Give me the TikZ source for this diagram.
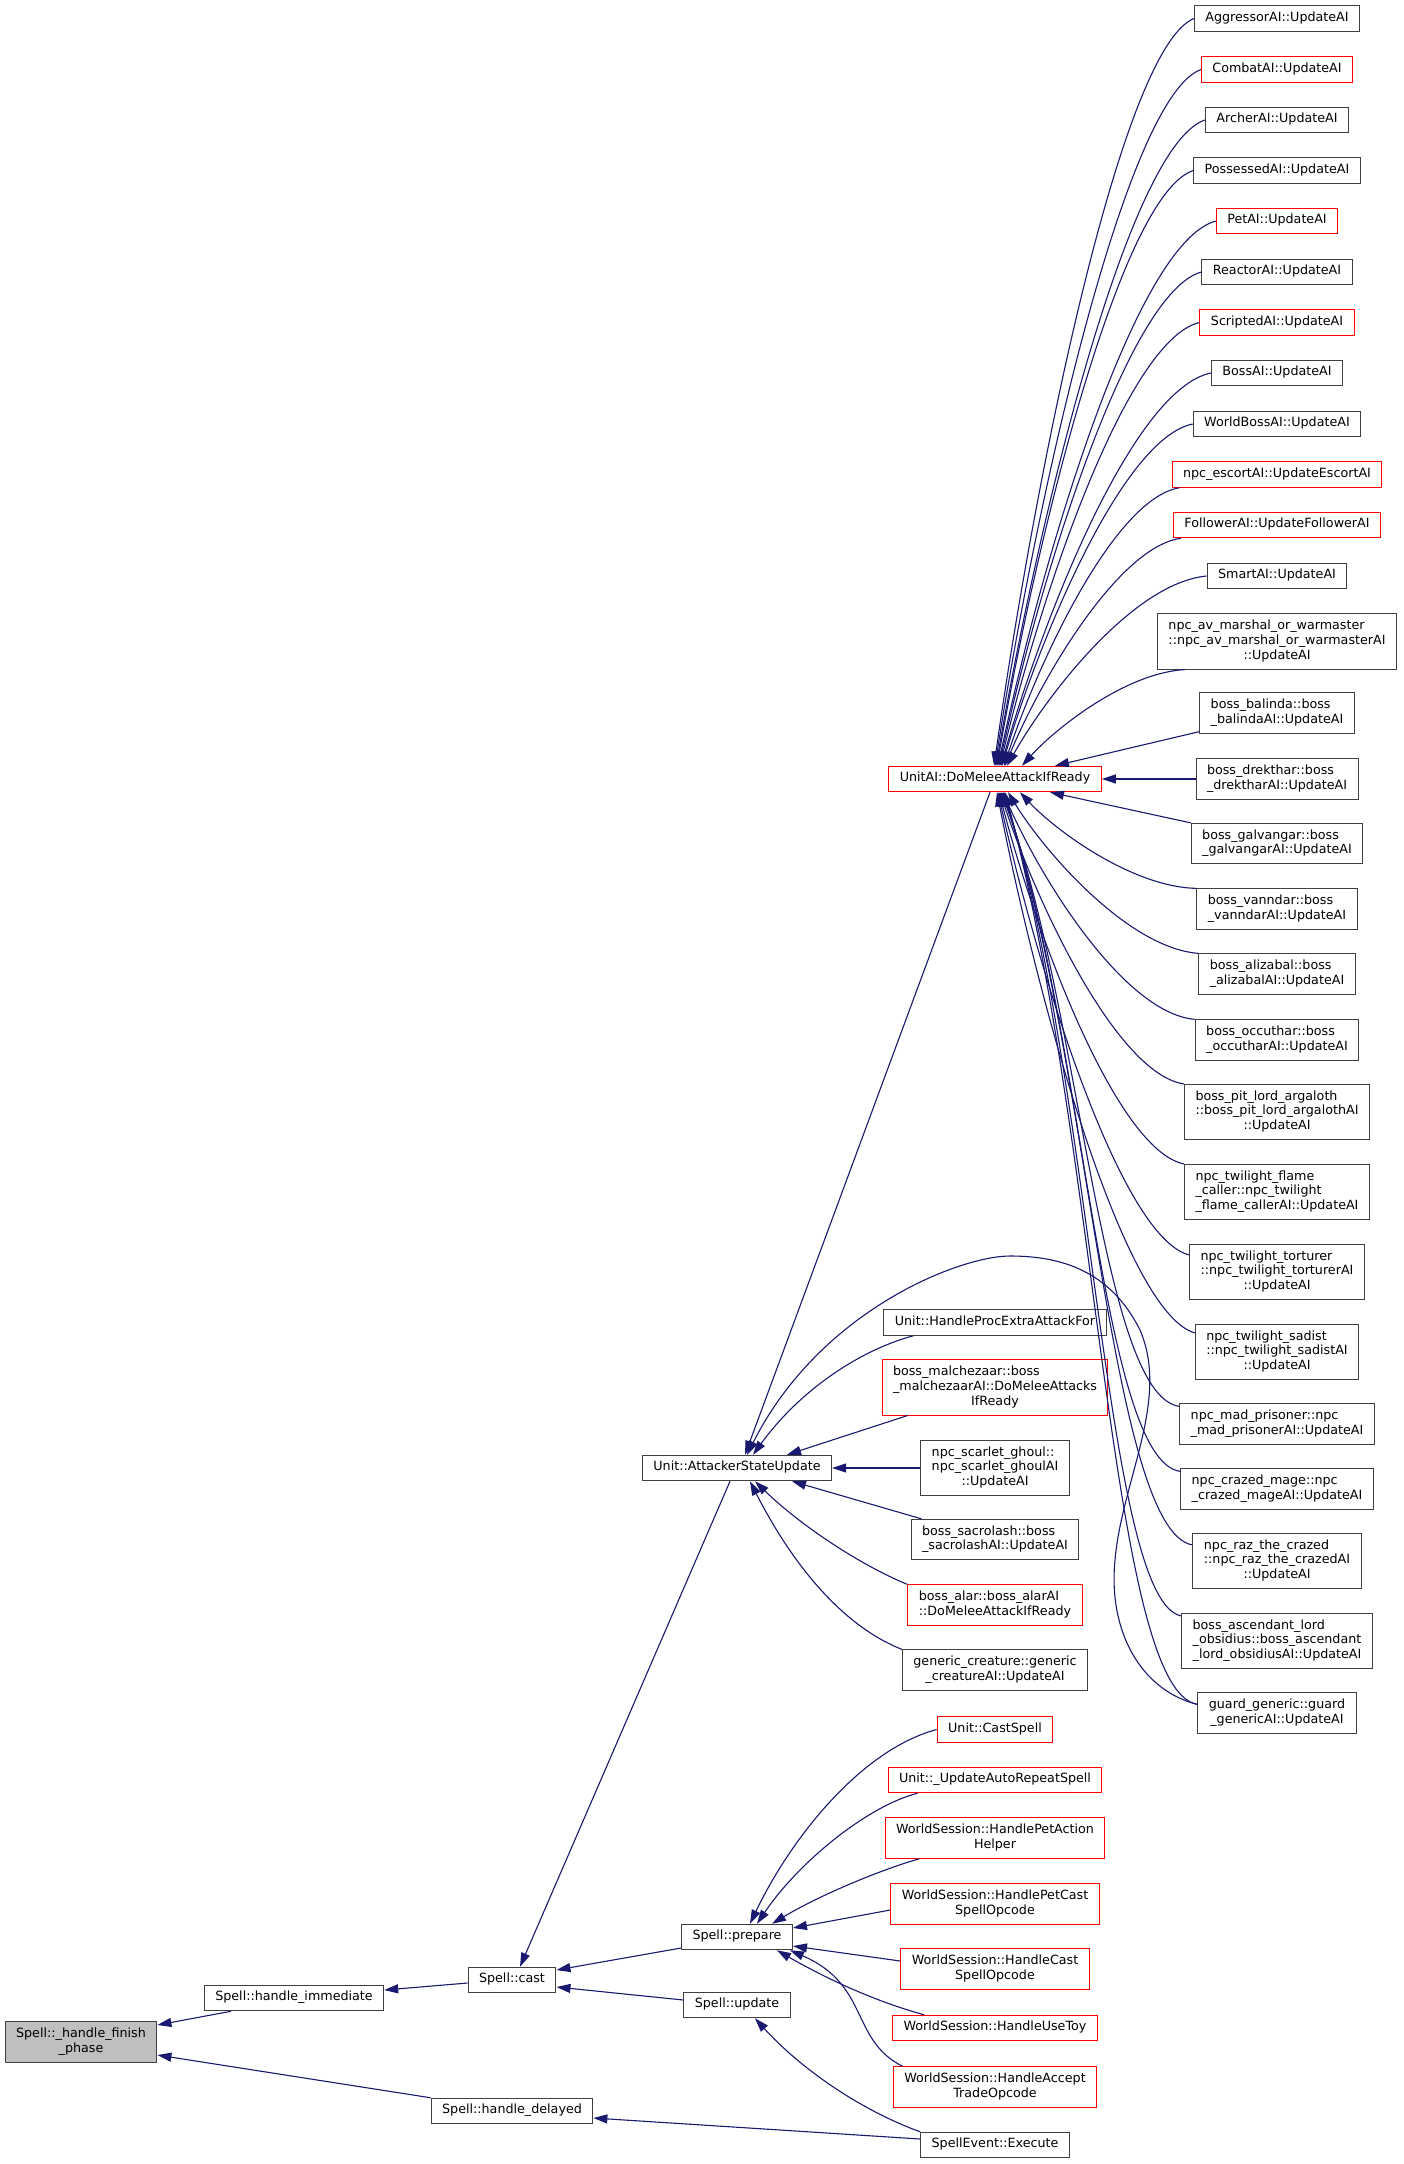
\documentclass[tikz,border=0pt]{standalone}
\usepackage{fontspec}
\setmainfont{DejaVu Sans}
\usetikzlibrary{arrows.meta}
\definecolor{cgedge}{HTML}{191970}
\definecolor{cgborder}{HTML}{404040}
\definecolor{cgred}{HTML}{FF0000}
\definecolor{cgroot}{HTML}{BFBFBF}
\newcommand{\fnfont}{\fontsize{12.7pt}{14.8pt}\selectfont}
\newcommand{\twoline}[2]{\begin{tabular}{@{}l@{}}#1\\\multicolumn{1}{@{}c@{}}{#2}\end{tabular}}
\newcommand{\threeline}[3]{\begin{tabular}{@{}l@{}}#1\\#2\\\multicolumn{1}{@{}c@{}}{#3}\end{tabular}}

\begin{document}
\begin{tikzpicture}[
  x=1pt, y=-1pt,
  fnbox/.style={rectangle, draw=cgborder, fill=white, line width=1pt, inner xsep=11pt, inner ysep=5.35pt, font=\fnfont, execute at begin node=\strut},
  fnred/.style={fnbox, draw=cgred},
  fnroot/.style={fnbox, fill=cgroot},
  call/.style={draw=cgedge, line width=1.1pt, -{Triangle[length=14pt, width=9pt]}},
]
\path[use as bounding box, fill=white] (0,0) rectangle (1404,2164);

% Left side: the function and its direct callers
\node[fnroot] (finish) at (81,2042) {\twoline{Spell::\_handle\_finish}{\_phase}};
\node[fnbox] (immediate) at (294,1998) {Spell::handle\_immediate};
\node[fnbox] (delayed) at (512,2111) {Spell::handle\_delayed};
\node[fnbox] (cast) at (512,1980) {Spell::cast};
\node[fnbox] (prepare) at (737,1937) {Spell::prepare};
\node[fnbox] (update) at (737,2005) {Spell::update};
\node[fnbox] (attacker) at (737,1468) {Unit::AttackerStateUpdate};
\node[fnred] (domelee) at (995,779) {UnitAI::DoMeleeAttackIfReady};

% Middle column
\node[fnbox] (procextra) at (995,1322.5) {Unit::HandleProcExtraAttackFor};
\node[fnred] (malchezaar) at (995,1387.5) {\threeline{boss\_malchezaar::boss}{\_malchezaarAI::DoMeleeAttacks}{IfReady}};
\node[fnbox] (scarletghoul) at (995,1468) {\threeline{npc\_scarlet\_ghoul::}{npc\_scarlet\_ghoulAI}{::UpdateAI}};
\node[fnbox] (sacrolash) at (995,1539.5) {\twoline{boss\_sacrolash::boss}{\_sacrolashAI::UpdateAI}};
\node[fnred] (alar) at (995,1605) {\twoline{boss\_alar::boss\_alarAI}{::DoMeleeAttackIfReady}};
\node[fnbox] (genericcreature) at (995,1670) {\twoline{generic\_creature::generic}{\_creatureAI::UpdateAI}};
\node[fnred] (castspell) at (995,1729.5) {Unit::CastSpell};
\node[fnred] (autorepeat) at (995,1780) {Unit::\_UpdateAutoRepeatSpell};
\node[fnred] (petaction) at (995,1838) {\twoline{WorldSession::HandlePetAction}{Helper}};
\node[fnred] (petcast) at (995,1904) {\twoline{WorldSession::HandlePetCast}{SpellOpcode}};
\node[fnred] (castopcode) at (995,1969) {\twoline{WorldSession::HandleCast}{SpellOpcode}};
\node[fnred] (usetoy) at (995,2028) {WorldSession::HandleUseToy};
\node[fnred] (accepttrade) at (995,2087) {\twoline{WorldSession::HandleAccept}{TradeOpcode}};
\node[fnbox] (execute) at (995,2145) {SpellEvent::Execute};

% Right column: AI update functions
\node[fnbox] (aggressor) at (1277,18.5) {AggressorAI::UpdateAI};
\node[fnred] (combat) at (1277,69.5) {CombatAI::UpdateAI};
\node[fnbox] (archer) at (1277,120) {ArcherAI::UpdateAI};
\node[fnbox] (possessed) at (1277,170.5) {PossessedAI::UpdateAI};
\node[fnred] (petai) at (1277,221) {PetAI::UpdateAI};
\node[fnbox] (reactor) at (1277,272) {ReactorAI::UpdateAI};
\node[fnred] (scripted) at (1277,322.5) {ScriptedAI::UpdateAI};
\node[fnbox] (bossai) at (1277,373) {BossAI::UpdateAI};
\node[fnbox] (worldboss) at (1277,424) {WorldBossAI::UpdateAI};
\node[fnred] (escort) at (1277,474.5) {npc\_escortAI::UpdateEscortAI};
\node[fnred] (follower) at (1277,525) {FollowerAI::UpdateFollowerAI};
\node[fnbox] (smart) at (1277,576) {SmartAI::UpdateAI};
\node[fnbox] (avmarshal) at (1277,641.5) {\threeline{npc\_av\_marshal\_or\_warmaster}{::npc\_av\_marshal\_or\_warmasterAI}{::UpdateAI}};
\node[fnbox] (balinda) at (1277,713) {\twoline{boss\_balinda::boss}{\_balindaAI::UpdateAI}};
\node[fnbox] (drekthar) at (1277,779) {\twoline{boss\_drekthar::boss}{\_drektharAI::UpdateAI}};
\node[fnbox] (galvangar) at (1277,843.5) {\twoline{boss\_galvangar::boss}{\_galvangarAI::UpdateAI}};
\node[fnbox] (vanndar) at (1277,909) {\twoline{boss\_vanndar::boss}{\_vanndarAI::UpdateAI}};
\node[fnbox] (alizabal) at (1277,974) {\twoline{boss\_alizabal::boss}{\_alizabalAI::UpdateAI}};
\node[fnbox] (occuthar) at (1277,1040) {\twoline{boss\_occuthar::boss}{\_occutharAI::UpdateAI}};
\node[fnbox] (pitlord) at (1277,1112) {\threeline{boss\_pit\_lord\_argaloth}{::boss\_pit\_lord\_argalothAI}{::UpdateAI}};
\node[fnbox] (flame) at (1277,1192) {\threeline{npc\_twilight\_flame}{\_caller::npc\_twilight}{\_flame\_callerAI::UpdateAI}};
\node[fnbox] (torturer) at (1277,1272) {\threeline{npc\_twilight\_torturer}{::npc\_twilight\_torturerAI}{::UpdateAI}};
\node[fnbox] (sadist) at (1277,1352) {\threeline{npc\_twilight\_sadist}{::npc\_twilight\_sadistAI}{::UpdateAI}};
\node[fnbox] (madprisoner) at (1277,1424) {\twoline{npc\_mad\_prisoner::npc}{\_mad\_prisonerAI::UpdateAI}};
\node[fnbox] (crazedmage) at (1277,1489) {\twoline{npc\_crazed\_mage::npc}{\_crazed\_mageAI::UpdateAI}};
\node[fnbox] (raz) at (1277,1561) {\threeline{npc\_raz\_the\_crazed}{::npc\_raz\_the\_crazedAI}{::UpdateAI}};
\node[fnbox] (ascendant) at (1277,1641) {\threeline{boss\_ascendant\_lord}{\_obsidius::boss\_ascendant}{\_lord\_obsidiusAI::UpdateAI}};
\node[fnbox] (guard) at (1277,1713) {\twoline{guard\_generic::guard}{\_genericAI::UpdateAI}};

% Calls into Spell::_handle_finish_phase and its callers
\draw[call] ([xshift=-63pt]immediate.south) -- ([yshift=17pt]finish.east);
\draw[call] (delayed.north west) -- ([yshift=-13pt]finish.east);
\draw[call] ([yshift=-3pt]cast.west) -- ([yshift=8pt]immediate.east);
\draw[call] ([yshift=-11pt]prepare.west) -- ([yshift=10pt]cast.east);
\draw[call] ([yshift=5pt]update.west) -- ([yshift=-7pt]cast.east);
\draw[call] ([xshift=-7pt]attacker.south) -- ([xshift=8pt]cast.north);
\draw[call] ([yshift=6pt]execute.west) -- ([yshift=-7pt]delayed.east);
\draw[call] (execute.north west) .. controls (860,2110) and (800,2068) .. ([xshift=18pt]update.south);

% Callers of Spell::prepare
\draw[call] (castspell.west) .. controls (860,1750) and (790,1840) .. ([xshift=13pt]prepare.north);
\draw[call] ([xshift=30pt]autorepeat.south west) .. controls (870,1805) and (800,1860) .. ([xshift=20pt]prepare.north);
\draw[call] ([xshift=35pt]petaction.south west) .. controls (880,1870) and (820,1895) .. ([xshift=35pt]prepare.north);
\draw[call] ([yshift=-6pt]petcast.west) -- ([yshift=9pt]prepare.east);
\draw[call] ([yshift=8pt]castopcode.west) -- ([yshift=-9pt]prepare.east);
\draw[call] ([xshift=32pt]usetoy.north west) .. controls (870,2000) and (820,1975) .. ([xshift=40pt]prepare.south);
\draw[call] ([xshift=10pt]accepttrade.north west) .. controls (850,2040) and (870,1985) .. ([xshift=53pt]prepare.south);

% Callers of Unit::AttackerStateUpdate
\draw[call] ([xshift=-5pt]domelee.south) -- ([xshift=8pt]attacker.north);
\draw[call] ([xshift=30pt]procextra.south west) .. controls (860,1350) and (800,1390) .. ([xshift=16pt]attacker.north);
\draw[call] ([xshift=26pt]malchezaar.south west) -- ([xshift=50pt]attacker.north);
\draw[call] (scarletghoul.west) -- (attacker.east);
\draw[call] ([xshift=11pt]sacrolash.north west) -- ([xshift=55pt]attacker.south);
\draw[call] (alar.north west) .. controls (860,1565) and (800,1525) .. ([xshift=18pt]attacker.south);
\draw[call] (genericcreature.north west) .. controls (840,1625) and (790,1560) .. ([xshift=13pt]attacker.south);
\draw[call] ([yshift=-12pt]guard.north west) .. controls (1140,1690) and (1108,1630) .. (1115,1560)
  .. controls (1122,1480) and (1170,1400) .. (1140,1330)
  .. controls (1110,1270) and (1060,1256) .. (1010,1256)
  .. controls (960,1256) and (820,1310) .. ([xshift=10pt]attacker.north);

% Callers of UnitAI::DoMeleeAttackIfReady, upper fan
\draw[call] (aggressor.west) .. controls (1120,49) and (1034,483) .. ([xshift=-1pt]domelee.north);
\draw[call] (combat.west) .. controls (1125,98) and (1036,502) .. (domelee.north);
\draw[call] (archer.west) .. controls (1128,146) and (1038,522) .. ([xshift=1pt]domelee.north);
\draw[call] (possessed.west) .. controls (1120,195) and (1036,541) .. ([xshift=2pt]domelee.north);
\draw[call] (petai.west) .. controls (1135,243) and (1042,560) .. ([xshift=3pt]domelee.north);
\draw[call] (reactor.west) .. controls (1128,292) and (1040,579) .. ([xshift=4pt]domelee.north);
\draw[call] (scripted.west) .. controls (1126,340) and (1040,598) .. ([xshift=5pt]domelee.north);
\draw[call] (bossai.west) .. controls (1133,389) and (1043,618) .. ([xshift=6pt]domelee.north);
\draw[call] (worldboss.west) .. controls (1123,438) and (1040,637) .. ([xshift=7pt]domelee.north);
\draw[call] ([xshift=8pt]escort.south west) .. controls (1115,498) and (1039,660) .. ([xshift=9pt]domelee.north);
\draw[call] ([xshift=8pt]follower.south west) .. controls (1118,547) and (1041,679) .. ([xshift=10pt]domelee.north);
\draw[call] (smart.west) .. controls (1133,583) and (1047,695) .. ([xshift=12pt]domelee.north);
\draw[call] ([xshift=28pt]avmarshal.south west) .. controls (1125,673) and (1055,729) .. ([xshift=27pt]domelee.north);
\draw[call] ([yshift=2pt]balinda.south west) -- ([xshift=60pt]domelee.north);
\draw[call] (drekthar.west) -- (domelee.east);
\draw[call] (galvangar.north west) -- ([xshift=55pt]domelee.south);

% Callers of UnitAI::DoMeleeAttackIfReady, lower fan
\draw[call] (vanndar.north west) .. controls (1132,887) and (1055,830) .. ([xshift=25pt]domelee.south);
\draw[call] (alizabal.north west) .. controls (1129,948) and (1046,854) .. ([xshift=13pt]domelee.south);
\draw[call] (occuthar.north west) .. controls (1124,1013) and (1041,879) .. ([xshift=8pt]domelee.south);
\draw[call] (pitlord.north west) .. controls (1117,1074) and (1037,904) .. ([xshift=5pt]domelee.south);
\draw[call] (flame.north west) .. controls (1116,1150) and (1036,934) .. ([xshift=4pt]domelee.south);
\draw[call] ([yshift=-11pt]torturer.north west) .. controls (1120,1237) and (1037,968) .. ([xshift=3pt]domelee.south);
\draw[call] ([yshift=-9pt]sadist.north west) .. controls (1123,1312) and (1037,998) .. ([xshift=2pt]domelee.south);
\draw[call] ([yshift=-3pt]madprisoner.north west) .. controls (1100,1395) and (1080,1000) .. ([xshift=6pt]domelee.south);
\draw[call] ([yshift=-3pt]crazedmage.north west) .. controls (1100,1460) and (1085,1030) .. ([xshift=7pt]domelee.south);
\draw[call] ([yshift=-12pt]raz.north west) .. controls (1110,1530) and (1090,1060) .. ([xshift=8pt]domelee.south);
\draw[call] ([yshift=-3pt]ascendant.north west) .. controls (1105,1600) and (1095,1100) .. ([xshift=9pt]domelee.south);
\draw[call] ([yshift=-12pt]guard.north west) .. controls (1110,1690) and (1100,1150) .. ([xshift=10pt]domelee.south);

\end{tikzpicture}
\end{document}
